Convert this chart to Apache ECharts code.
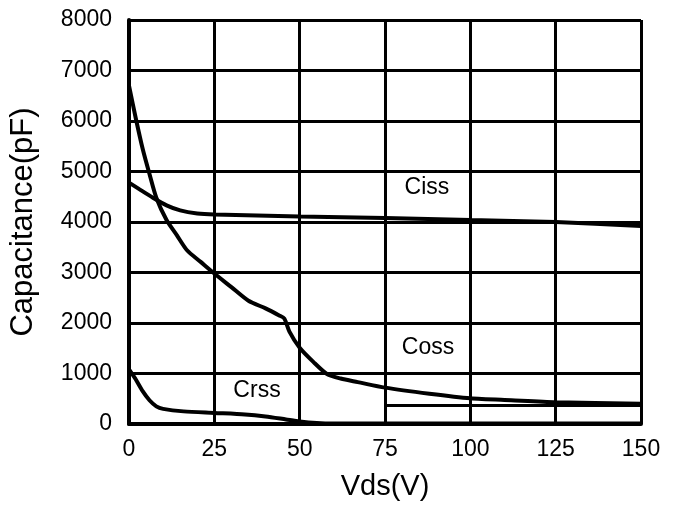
<!DOCTYPE html>
<html>
<head>
<meta charset="utf-8">
<script src="https://cdn.jsdelivr.net/npm/echarts@6/dist/echarts.min.js"></script>
<style>
  html, body { margin: 0; padding: 0; background: #fff; }
  #chart { width: 674px; height: 513px; }
</style>
</head>
<body>
<div id="chart"></div>
<script>
// Drain-source voltage (V) and capacitance (pF) samples for each curve
const cissV = [0, 3, 7, 11, 15, 20, 25, 50, 75, 100, 125, 150];
const cissC = [4780, 4650, 4480, 4330, 4230, 4170, 4150, 4110, 4080, 4040, 4000, 3920];

const cossV = [0, 2, 4, 6, 8, 11, 14, 17, 21, 25, 30, 35, 40, 44, 45.5, 47, 50, 54, 58, 62, 67, 75, 88, 100, 112, 125, 150];
const cossC = [6700, 6050, 5450, 4950, 4480, 4040, 3740, 3440, 3210, 2980, 2710, 2440, 2290, 2150, 2090, 1830, 1510, 1230, 990, 900, 830, 720, 600, 510, 470, 430, 400];

const crssV = [0, 2, 4, 6, 8, 10, 16, 25, 34, 40, 46, 50, 55, 60, 150];
const crssC = [1080, 880, 650, 470, 350, 300, 250, 220, 190, 150, 90, 50, 20, 10, 10];

// Tick marks
const xTicks = [0, 25, 50, 75, 100, 125, 150];
const yTicks = [0, 1000, 2000, 3000, 4000, 5000, 6000, 7000, 8000];

// Curve names and where their captions sit (V, pF)
const curveNames = ['Ciss', 'Coss', 'Crss'];
const captionAt = [[87.3, 4680], [87.6, 1520], [37.5, 660]];

// Reference rule drawn under the Coss tail (V from, V to, pF)
const ruleFrom = 75, ruleTo = 150, ruleLevel = 370;

const zip = (xs, ys) => xs.map((x, i) => [x, ys[i]]);
const curves = [zip(cissV, cissC), zip(cossV, cossC), zip(crssV, crssC)];

const FONT = '"Liberation Sans", Arial, sans-serif';

const series = curves.map((data, i) => ({
  name: curveNames[i],
  type: 'line',
  data: data,
  smooth: 0.25,
  symbol: 'none',
  lineStyle: { color: '#000', width: 4 },
  markPoint: {
    symbol: 'rect',
    symbolSize: 0,
    data: [{ coord: captionAt[i] }],
    label: {
      show: true,
      formatter: curveNames[i],
      color: '#000',
      fontFamily: FONT,
      fontSize: 23,
      position: 'inside'
    }
  }
}));

series[1].markLine = {
  silent: true,
  symbol: 'none',
  label: { show: false },
  lineStyle: { color: '#000', width: 3, type: 'solid' },
  data: [[{ coord: [ruleFrom, ruleLevel] }, { coord: [ruleTo, ruleLevel] }]]
};

const chart = echarts.init(document.getElementById('chart'));
chart.setOption({
  animation: false,
  backgroundColor: '#fff',
  grid: { left: 129, right: 33, top: 20, bottom: 89, containLabel: false },
  xAxis: {
    type: 'value',
    min: xTicks[0],
    max: xTicks[xTicks.length - 1],
    interval: 25,
    name: 'Vds(V)',
    nameLocation: 'middle',
    nameGap: 48,
    nameTextStyle: { color: '#000', fontFamily: FONT, fontSize: 29 },
    axisLine: { show: true, lineStyle: { color: '#000', width: 4 } },
    axisTick: { show: false },
    axisLabel: { color: '#000', fontFamily: FONT, fontSize: 23, margin: 14 },
    splitLine: { show: true, lineStyle: { color: '#000', width: 3 } }
  },
  yAxis: {
    type: 'value',
    min: yTicks[0],
    max: yTicks[yTicks.length - 1],
    interval: 1000,
    name: 'Capacitance(pF)',
    nameLocation: 'middle',
    nameRotate: 90,
    nameGap: 90,
    nameTextStyle: { color: '#000', fontFamily: FONT, fontSize: 31 },
    axisLine: { show: true, lineStyle: { color: '#000', width: 4 } },
    axisTick: { show: false },
    axisLabel: {
      color: '#000', fontFamily: FONT, fontSize: 23, margin: 17,
      formatter: v => String(v)
    },
    splitLine: { show: true, lineStyle: { color: '#000', width: 3 } }
  },
  series: series
});
</script>
</body>
</html>
